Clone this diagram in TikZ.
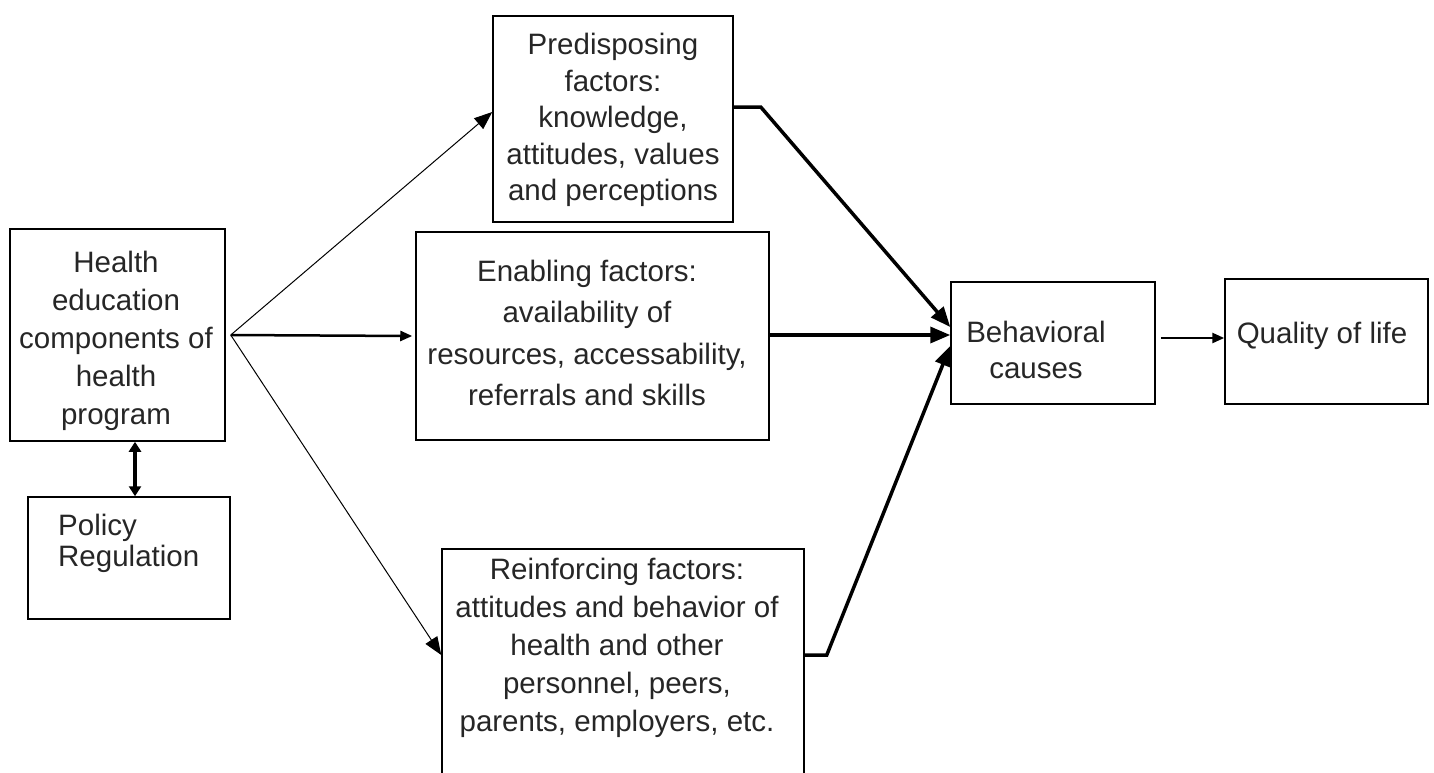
\documentclass[tikz,border=0pt]{standalone}
\usepackage{fontspec}
\setmainfont{Liberation Sans}
\usetikzlibrary{arrows.meta}
\begin{document}
\begin{tikzpicture}[x=1pt,y=-1pt,
  box/.style={draw, line width=1.5pt, inner sep=0pt},
  txt/.style={font=\fontsize{29.5}{38}\selectfont, align=center, inner sep=0pt, text=black!85},
  thinarr/.style={line width=1pt, -{Triangle[length=18pt,width=14pt]}},
  medarr/.style={line width=2.5pt, -{Triangle[length=12pt,width=10pt]}},
  thickarr/.style={line width=3.5pt, -{Triangle[length=20pt,width=16pt]}}]
\useasboundingbox (0,0) rectangle (1434,772);
\clip (0,0) rectangle (1434,772);
% boxes
\node[box, minimum width=215pt, minimum height=212pt] (health) at (117.5,335) {};
\node[box, minimum width=202pt, minimum height=122pt] (policy) at (129,558) {};
\node[box, minimum width=240pt, minimum height=206pt] (pred) at (613,119) {};
\node[box, minimum width=353pt, minimum height=208pt] (ena) at (592.5,336) {};
\node[box, minimum width=362pt, minimum height=251pt] (reinf) at (623,674.5) {};
\node[box, minimum width=204pt, minimum height=122pt] (beh) at (1053,343) {};
\node[box, minimum width=203pt, minimum height=125pt] (qual) at (1326.5,341.5) {};
% texts
\node[txt] (healthtxt) at (116,341) {Health\\education\\components of\\health\\program};
\node[txt, align=left, anchor=west, font=\fontsize{29.5}{31}\selectfont] (policytxt) at (58,543) {Policy\\Regulation};
\node[txt, font=\fontsize{29.5}{36.5}\selectfont] (predtxt) at (613,120) {Predisposing\\factors:\\knowledge,\\attitudes, values\\and perceptions};
\node[txt, font=\fontsize{29.5}{41.5}\selectfont] (enatxt) at (587,333) {Enabling factors:\\availability of\\resources, accessability,\\referrals and skills};
\node[txt] (reinftxt) at (617,648) {Reinforcing factors:\\attitudes and behavior of\\health and other\\personnel, peers,\\parents, employers, etc.};
\node[txt, font=\fontsize{29.5}{36}\selectfont] (behtxt) at (1036,350) {Behavioral\\causes};
\node[txt] (qualtxt) at (1322,336) {Quality of life};
% connectors
\draw[thinarr] ([xshift=5pt]health.east) -- ([yshift=7pt]pred.west);
\draw[medarr] ([xshift=5pt]health.east) -- ([xshift=-3pt]ena.west);
\draw[thinarr] ([xshift=5pt]health.east) -- ([yshift=19.5pt]reinf.west);
\draw[thickarr] ([yshift=12pt]pred.east) -- ++(27,0) -- ([yshift=16pt]beh.west);
\draw[thickarr] ([yshift=1pt]ena.east) -- ([yshift=8pt]beh.west);
\draw[thickarr] ([yshift=19.5pt]reinf.east) -- ++(22,0) -- ([yshift=-3pt]beh.west);
\draw[medarr] ([xshift=5pt,yshift=5pt]beh.east) -- ([yshift=3.5pt]qual.west);
\draw[line width=4pt, {Triangle[length=10pt,width=12pt]}-{Triangle[length=10pt,width=12pt]}]
  ([xshift=17.5pt]health.south) -- ([xshift=17.5pt]health.south |- policy.north);
\end{tikzpicture}
\end{document}
